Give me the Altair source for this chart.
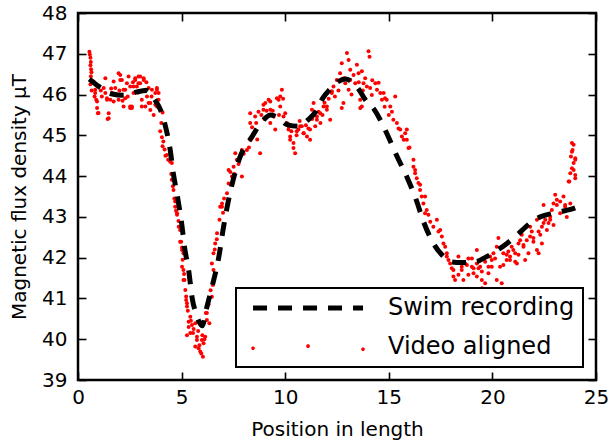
import altair as alt
import pandas as pd

# ---------------- data ----------------
# Swim recording (dashed black curve)
swim_x = [0.55, 1.0, 1.6, 2.2, 2.8, 3.3, 3.7, 4.0, 4.2, 4.45, 4.6, 4.8, 5.0, 5.15, 5.35,
          5.5, 5.7, 5.85, 6.0, 6.2, 6.45, 6.8, 7.0, 7.2, 7.45, 7.8, 8.4, 8.9, 9.3, 9.7,
          10.1, 10.6, 11.1, 11.5, 11.8, 12.2, 12.6, 12.9, 13.2, 13.5, 13.9, 14.3, 14.9,
          15.4, 15.9, 16.3, 16.7, 17.2, 17.6, 18.0, 18.5, 19.2, 19.7, 20.2, 20.7, 21.2,
          21.6, 22.1, 22.6, 23.0, 23.5, 24.2, 24.4]
swim_y = [46.38, 46.2, 46.02, 45.98, 46.06, 46.1, 45.88, 45.6, 45.26, 44.64, 44.07, 43.5,
          42.85, 42.23, 41.66, 41.04, 40.62, 40.42, 40.33, 40.75, 41.25, 42.03, 42.68,
          43.25, 43.83, 44.44, 44.97, 45.35, 45.5, 45.42, 45.26, 45.22, 45.38, 45.6, 45.9,
          46.15, 46.33, 46.38, 46.32, 46.16, 45.85, 45.63, 45.05, 44.48, 43.95, 43.45,
          42.85, 42.31, 42.05, 41.9, 41.88, 41.9, 42.02, 42.17, 42.35, 42.56, 42.75, 42.95,
          43.05, 43.1, 43.15, 43.27, 43.33]

# Video aligned (red dots), grouped by stretch of the swim
video_start = [(0.55, 47.05), (0.57, 46.98), (0.6, 46.9), (0.62, 46.8), (0.6, 46.72),
               (0.63, 46.62), (0.65, 46.55), (0.62, 46.45), (0.64, 46.35), (0.6, 46.25),
               (0.66, 46.1)]
video_flat = [(0.75, 46.32), (0.83, 46.12), (0.8, 45.95), (0.88, 45.87), (0.92, 45.67),
              (0.96, 45.54), (0.99, 45.55), (0.83, 46.04), (0.92, 45.83), (1.24, 46.16),
              (1.32, 46.04), (1.32, 46.4), (1.4, 45.91), (1.4, 45.87), (1.43, 45.4),
              (1.48, 45.54), (1.48, 45.42), (1.56, 45.87), (1.64, 46.04), (1.72, 46.32),
              (1.72, 45.83), (1.8, 46.16), (1.88, 46.0), (1.96, 45.87), (1.96, 46.52),
              (2.04, 46.48), (2.04, 46.36), (2.12, 46.36), (2.2, 46.12), (2.2, 45.71),
              (2.28, 45.91), (2.28, 46.12), (2.36, 46.28), (2.44, 46.44), (2.52, 46.2),
              (2.52, 45.71), (2.52, 45.67), (2.6, 45.67), (2.6, 45.71), (2.68, 46.04),
              (2.68, 46.2), (2.76, 46.36), (2.76, 46.4), (2.84, 46.2), (2.92, 46.44),
              (2.92, 46.28), (3.0, 46.28), (3.0, 46.44), (3.08, 45.71), (3.08, 45.87),
              (3.17, 46.36), (3.17, 46.4), (3.25, 46.12), (3.25, 45.71), (3.33, 45.95),
              (3.41, 45.79), (3.41, 46.16), (3.49, 45.62), (3.49, 45.79), (3.57, 46.12),
              (3.65, 45.5), (3.73, 46.04), (3.73, 45.75), (3.81, 46.16), (3.81, 46.12),
              (3.89, 45.87), (3.81, 45.71), (3.89, 46.04), (1.1, 46.1), (1.15, 45.95),
              (2.0, 46.1), (2.4, 45.95), (2.9, 46.05), (3.3, 46.3), (1.6, 46.15),
              (2.15, 45.85), (2.65, 46.3), (3.55, 45.95)]
video_drop = [(3.97, 45.1), (4.02, 45.3), (4.08, 45.56), (4.05, 44.95), (4.08, 44.73),
              (4.12, 44.85), (4.18, 44.65), (4.22, 44.5), (4.29, 44.52), (4.35, 44.4),
              (4.45, 44.35), (4.53, 44.32), (4.5, 44.05), (4.53, 43.91), (4.58, 43.75),
              (4.61, 43.66), (4.65, 43.45), (4.69, 43.25), (4.69, 43.38), (4.73, 43.15),
              (4.78, 43.05), (4.78, 43.09), (4.86, 42.76), (4.85, 42.9), (4.93, 42.68),
              (4.93, 42.39), (4.98, 42.39), (5.02, 42.25), (5.02, 42.19), (5.09, 42.11),
              (5.05, 41.95), (5.02, 41.78), (5.09, 41.7), (5.12, 41.6), (5.14, 41.45),
              (5.09, 41.45), (5.18, 41.21), (5.22, 41.05), (5.22, 40.96), (5.26, 40.88),
              (5.26, 40.8), (5.3, 40.7), (5.42, 40.55), (5.34, 40.43), (5.34, 40.3),
              (5.45, 40.45), (5.5, 40.35), (5.42, 40.15), (5.26, 40.1), (5.58, 40.25),
              (5.66, 40.39), (5.74, 40.06), (5.66, 39.82), (5.82, 39.78), (5.74, 39.98),
              (5.98, 39.98), (6.06, 39.9), (5.9, 39.7), (6.03, 39.57), (5.95, 39.65),
              (5.86, 39.85), (6.0, 40.1), (6.1, 40.0), (6.14, 40.06), (6.22, 40.47),
              (6.34, 40.39), (6.17, 40.64), (5.8, 40.2), (5.55, 40.15)]
video_rise = [(6.22, 40.64), (6.3, 40.85), (6.4, 41.2), (6.46, 41.04), (6.51, 41.33),
              (6.54, 41.7), (6.46, 41.86), (6.54, 42.11), (6.6, 42.2), (6.62, 42.35),
              (6.7, 42.45), (6.71, 42.6), (6.83, 42.93), (6.86, 43.25), (6.95, 43.25),
              (6.95, 43.33), (7.0, 43.1), (7.05, 43.45), (7.19, 43.58), (7.27, 43.82),
              (7.35, 44.1), (7.27, 44.15), (7.43, 43.99), (7.51, 44.23), (7.55, 44.05),
              (7.59, 44.56), (7.67, 44.4), (7.75, 44.3), (7.85, 44.5), (7.91, 44.64),
              (7.91, 43.99), (8.0, 44.55), (8.15, 44.64), (8.25, 44.7), (8.31, 44.89),
              (8.31, 45.3), (8.31, 45.54), (8.4, 45.2), (8.47, 45.05), (8.55, 45.46),
              (8.6, 45.3), (8.65, 44.9), (8.71, 45.58), (8.79, 44.56), (8.85, 45.5),
              (8.95, 45.75), (8.95, 45.63), (9.0, 45.4), (9.04, 45.79), (9.1, 45.6)]
video_middle = [(9.2, 45.87), (9.28, 45.83), (9.28, 45.3), (9.28, 45.63), (9.4, 45.6),
                (9.44, 45.46), (9.52, 45.14), (9.6, 45.91), (9.68, 45.87), (9.7, 45.5),
                (9.76, 45.71), (9.76, 45.95), (9.84, 46.12), (9.9, 45.9), (9.92, 45.46),
                (10.0, 45.54), (10.08, 45.3), (10.16, 45.22), (10.16, 45.14), (10.24, 44.97),
                (10.24, 44.89), (10.3, 45.1), (10.4, 44.81), (10.4, 44.69), (10.48, 44.56),
                (10.55, 45.0), (10.56, 45.1), (10.64, 45.14), (10.7, 45.35), (10.72, 45.22),
                (10.8, 45.22), (10.88, 45.05), (10.9, 45.05), (11.0, 45.25), (11.05, 44.97),
                (11.12, 45.17), (11.2, 45.14), (11.2, 44.89), (11.29, 45.63), (11.3, 45.4),
                (11.37, 45.79), (11.45, 45.22), (11.53, 45.38), (11.53, 45.46), (11.61, 45.58),
                (11.69, 45.54), (11.7, 45.3), (11.8, 45.5), (11.85, 45.71), (11.9, 45.8),
                (12.01, 45.71), (12.01, 45.63), (12.1, 45.9), (12.17, 45.38)]
video_peak = [(12.25, 46.08), (12.25, 46.04), (12.33, 46.2), (12.4, 45.95), (12.49, 46.36),
              (12.57, 46.1), (12.65, 46.52), (12.73, 46.77), (12.73, 45.67), (12.81, 45.79),
              (12.85, 46.4), (12.9, 46.28), (12.98, 47.02), (13.06, 46.85), (13.06, 46.12),
              (13.14, 46.61), (13.14, 46.36), (13.2, 46.0), (13.3, 46.48), (13.38, 46.28),
              (13.46, 46.73), (13.54, 46.52), (13.55, 46.3), (13.62, 45.87), (13.62, 45.67),
              (13.7, 46.57), (13.7, 45.71), (13.75, 46.1), (13.78, 46.28), (13.86, 46.4),
              (13.94, 46.2), (14.02, 47.06), (14.07, 46.93), (14.1, 46.16), (14.18, 45.99),
              (14.2, 46.35), (14.35, 46.28), (14.43, 46.12), (14.51, 46.29), (14.59, 46.04),
              (14.67, 45.87), (14.75, 46.04), (14.82, 45.91), (14.8, 45.7), (14.9, 45.87),
              (15.0, 45.5), (15.07, 45.71), (15.15, 45.58), (15.22, 45.38), (15.31, 45.95),
              (15.39, 45.3), (15.47, 45.17), (15.55, 45.14), (15.63, 44.97), (15.72, 44.89),
              (15.79, 45.05), (15.87, 45.14), (15.87, 44.89), (15.95, 44.69), (16.0, 44.7)]
video_fall = [(16.19, 44.4), (16.19, 44.23), (16.27, 44.15), (16.27, 44.07), (16.35, 43.95),
              (16.43, 43.83), (16.51, 43.66), (16.51, 43.79), (16.59, 43.5), (16.67, 43.33),
              (16.75, 43.5), (16.75, 43.09), (16.83, 43.17), (16.91, 43.05), (17.0, 42.88),
              (17.15, 42.76), (17.32, 42.93), (17.4, 42.64), (17.48, 42.68), (17.56, 42.52),
              (17.64, 42.35), (17.72, 42.27), (17.8, 42.03), (17.8, 42.11), (17.88, 41.94),
              (17.96, 41.86), (18.04, 41.74), (18.12, 41.7), (18.12, 41.54), (18.2, 41.45)]
video_end = [(18.36, 41.58), (18.36, 42.03), (18.52, 41.7), (18.52, 41.78), (18.5, 41.2),
             (18.6, 41.45), (18.68, 41.86), (18.77, 41.82), (18.84, 41.58), (18.84, 41.98),
             (19.01, 41.98), (19.01, 41.78), (19.0, 41.1), (19.09, 41.74), (19.09, 41.62),
             (19.25, 42.19), (19.25, 41.54), (19.25, 41.86), (19.33, 41.74), (19.41, 41.78),
             (19.41, 41.94), (19.49, 41.45), (19.49, 41.66), (19.5, 41.25), (19.65, 41.9),
             (19.65, 41.37), (19.81, 41.62), (19.81, 41.78), (19.89, 42.03), (19.97, 41.78),
             (19.97, 41.94), (20.0, 41.2), (20.05, 42.11), (20.13, 41.98), (20.21, 41.45),
             (20.21, 42.27), (20.29, 42.48), (20.37, 41.78), (20.45, 42.27), (20.45, 41.37),
             (20.53, 41.82), (20.53, 42.11), (20.69, 42.07), (20.69, 41.94), (20.77, 42.15),
             (20.85, 41.94), (20.85, 42.03), (20.93, 42.27), (21.01, 42.19), (21.1, 41.9),
             (21.1, 42.11), (21.18, 41.86), (21.26, 42.07), (21.26, 42.35), (21.34, 42.43),
             (21.42, 42.56), (21.5, 42.31), (21.5, 42.27), (21.58, 41.94), (21.66, 42.43),
             (21.74, 42.11), (21.82, 42.52), (21.82, 42.76), (21.9, 42.64), (21.98, 42.39),
             (21.98, 42.48), (22.15, 42.19), (22.15, 42.93), (22.23, 42.64), (22.23, 42.11),
             (22.31, 42.56), (22.39, 42.35), (22.39, 42.76), (22.47, 42.85), (22.47, 43.29),
             (22.55, 42.93), (22.63, 42.68), (22.71, 42.85), (22.79, 42.93), (22.79, 43.0),
             (22.87, 43.17), (22.95, 42.8), (22.95, 43.33), (23.03, 43.54), (23.11, 43.29),
             (23.11, 43.42), (23.27, 43.09), (23.27, 43.38), (23.43, 43.5), (23.51, 43.25),
             (23.51, 43.29), (23.59, 43.0), (23.68, 43.87), (23.71, 43.87), (23.76, 43.33),
             (23.76, 44.07), (23.79, 44.48), (23.84, 44.19), (23.84, 44.6), (23.84, 44.81),
             (23.87, 44.64), (23.92, 44.32), (23.92, 44.77), (23.92, 44.15), (24.0, 44.44),
             (24.0, 44.4), (24.0, 44.03), (24.0, 43.95)]

x_ticks = [0, 5, 10, 15, 20, 25]
y_ticks = [39, 40, 41, 42, 43, 44, 45, 46, 47, 48]
series_names = ["Swim recording", "Video aligned"]
series_colors = ["black", "red"]

# ---------------- tables ----------------
swim_df = pd.DataFrame({"x": swim_x, "y": swim_y, "series": series_names[0]})
video_pts = (video_start + video_flat + video_drop + video_rise + video_middle
             + video_peak + video_fall + video_end)
video_df = pd.DataFrame({"x": [p[0] for p in video_pts], "y": [p[1] for p in video_pts],
                         "series": series_names[1]})

FONT = "DejaVu Sans"
LINE_PATH = "M-0.27,0H9.73"
DOT = "l0.09,-0.09h0.14l0.09,0.09v0.14l-0.09,0.09h-0.14l-0.09,-0.09z"
DOTS_PATH = "M-0.43,0.05" + DOT + "M4.57,-0.15" + DOT + "M9.57,0.14" + DOT
is_swim = "datum.value === 'Swim recording'"

legend = alt.Legend(
    title=None, orient="bottom-right", offset=13, padding=8, rowPadding=15,
    fillColor="white", strokeColor="black", cornerRadius=0,
    labelFont=FONT, labelFontSize=24, labelColor="black", labelOffset=120,
    labelLimit=400,
    symbolSize=484, symbolOpacity=1, symbolDash=[14, 11],
    symbolType={"expr": f"({is_swim} ? '{LINE_PATH}' : '{DOTS_PATH}')"},
    symbolStrokeWidth={"expr": f"({is_swim} ? 5 : 0)"},
)

color = alt.Color("series:N",
                  scale=alt.Scale(domain=series_names, range=series_colors),
                  legend=legend)

xscale = alt.Scale(domain=[0, 25], nice=False, zero=False)
yscale = alt.Scale(domain=[39, 48], nice=False, zero=False)

common_axis = dict(domain=False, grid=False, offset=-8, tickSize=8, tickWidth=1.6,
                   tickColor="black", labelFont=FONT, labelFontSize=20, labelColor="black",
                   titleFont=FONT, titleFontSize=20, titleFontWeight="normal",
                   titleColor="black", labelOverlap=False)

x_bottom = alt.X("x:Q", scale=xscale,
                 axis=alt.Axis(orient="bottom", values=x_ticks, title="Position in length",
                               labelPadding=7, titlePadding=12, labelFlush=False,
                               **common_axis))
y_left = alt.Y("y:Q", scale=yscale,
               axis=alt.Axis(orient="left", values=y_ticks, title="Magnetic flux density μT",
                             labelPadding=11, titlePadding=12, labelFlush=False,
                             **common_axis))
x_top = alt.X("x:Q", scale=xscale,
              axis=alt.Axis(orient="top", values=x_ticks, title=None, labels=False,
                            **common_axis))
y_right = alt.Y("y:Q", scale=yscale,
                axis=alt.Axis(orient="right", values=y_ticks, title=None, labels=False,
                              **common_axis))

points = alt.Chart(video_df).mark_circle(size=16, opacity=1).encode(
    x=x_bottom, y=y_left, color=color)

line = alt.Chart(swim_df).mark_line(interpolate="monotone").encode(
    x=x_top, y=y_right, color=color,
    strokeWidth=alt.value(5), strokeDash=alt.value([14, 11]))

chart = alt.layer(points, line).resolve_axis(x="independent", y="independent").properties(
    width=518, height=367,
    autosize=alt.AutoSizeParams(type="none"),
    padding={"left": 78, "top": 13, "right": 14, "bottom": 64},
    background="white",
).configure_view(stroke="black", strokeWidth=2.5).configure_legend(strokeWidth=2)

chart.save("out.html", embed_options={"renderer": "svg", "actions": False})
